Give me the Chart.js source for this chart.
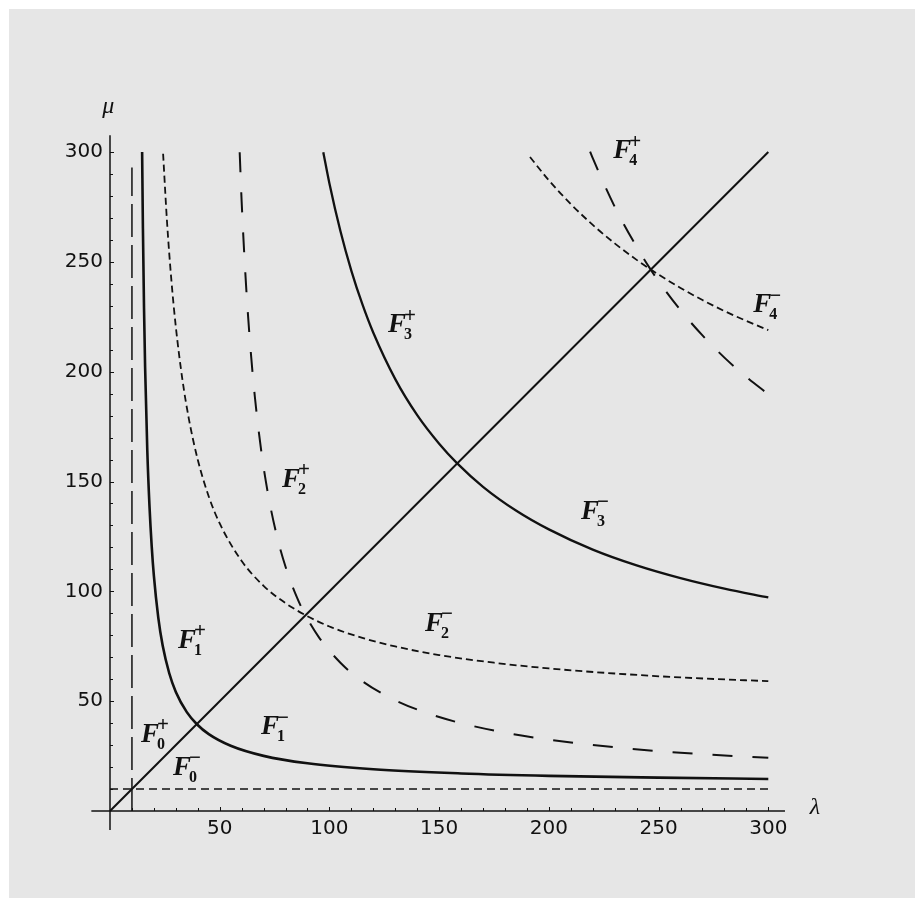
<!DOCTYPE html>
<html>
<head>
<meta charset="utf-8">
<script src="https://cdn.jsdelivr.net/npm/chart.js@4.4.0/dist/chart.umd.min.js"></script>
<style>
  html, body { margin: 0; padding: 0; background: #fff; }
  #wrap { position: absolute; left: 9px; top: 9px; width: 906px; height: 889px; background: #e6e6e6; }
</style>
</head>
<body>
<div id="wrap"><canvas id="plot" width="906" height="889"></canvas></div>
<script>
// values (lambda on x, mu on y)
var tickValues = [50, 100, 150, 200, 250, 300];

var axisX = [-8.5, 307.6];
var axisY = [-8.6, 307.6];

var diagX = [0, 300];
var diagY = [0, 300];

var f0VertX = [10, 10];
var f0VertY = [0, 293];
var f0HorizX = [0, 300];
var f0HorizY = [10, 10];

var f1X = [14.64, 15, 15.5, 16, 17, 18, 19, 20, 22, 24, 27, 30, 35, 39.6, 45, 55, 70, 90, 120, 160, 200, 250, 300];
var f1Y = [300, 265.3, 229.1, 202, 164, 138.7, 120.6, 107, 88, 75.3, 62.7, 54.2, 45, 39.5, 35, 29.7, 25.1, 21.7, 19, 17.1, 16, 15.2, 14.6];

var f2ShortX = [24.2, 26, 28, 30, 33, 36, 40, 45, 50, 60, 70, 80, 89, 100, 115, 130, 150, 175, 200, 230, 260, 300];
var f2ShortY = [299.2, 268, 241.3, 220.4, 196.4, 178.2, 159.9, 143.2, 130.9, 113.8, 102.5, 94.6, 89.2, 84, 78.8, 74.9, 71, 67.5, 64.9, 62.6, 60.8, 59.1];

var f2LongX = [59.1, 60, 62, 64, 66, 69, 72, 76, 80, 85, 89, 95, 105, 115, 130, 150, 175, 200, 230, 260, 300];
var f2LongY = [299.9, 277.3, 239.4, 210.9, 188.7, 163.4, 144.4, 125.4, 111.2, 97.7, 89.3, 79.4, 67.5, 59.1, 50.4, 42.8, 36.6, 32.5, 29, 26.5, 24.2];

var f3X = [97.2, 100, 105, 110, 115, 120, 130, 140, 150, 158, 170, 185, 200, 220, 240, 260, 280, 300];
var f3Y = [299.9, 285.7, 264, 245.9, 230.7, 217.7, 196.6, 180.2, 167.2, 158.5, 147.6, 136.8, 128.2, 119, 111.8, 106, 101.2, 97.2];

var f4ShortX = [191.4, 200, 210, 220, 230, 240, 250, 260, 270, 280, 290, 300];
var f4ShortY = [297.7, 287.1, 276.3, 266.8, 258.4, 250.9, 244.2, 238.1, 232.6, 227.6, 223.1, 218.9];

var f4LongX = [218.8, 220, 230, 240, 246.2, 250, 260, 270, 280, 290, 300];
var f4LongY = [300.2, 297.2, 275.1, 256.8, 246.8, 241.2, 228, 216.5, 206.4, 197.6, 189.7];

// region names F_n^(+/-)
var labelIndex = ['0', '0', '1', '1', '2', '2', '3', '3', '4', '4'];
var labelSign = ['+', '\u2212', '+', '\u2212', '+', '\u2212', '+', '\u2212', '+', '\u2212'];
var labelX = [18.2, 32.8, 35.1, 72.9, 82.5, 147.7, 130.8, 218.8, 233.4, 297.2];
var labelY = [34.6, 19.6, 77.4, 38.2, 150.7, 85.1, 221.2, 136.1, 300.4, 230.3];

var ink = '#111';

function pts(xs, ys) {
  var out = [];
  for (var i = 0; i < xs.length; i++) out.push({x: xs[i], y: ys[i]});
  return out;
}

function curve(xs, ys, width, dash, smooth) {
  return {
    data: pts(xs, ys),
    showLine: true,
    borderColor: ink,
    borderWidth: width,
    borderDash: dash || [],
    pointRadius: 0,
    fill: false,
    clip: false,
    cubicInterpolationMode: smooth ? 'monotone' : 'default',
    tension: 0
  };
}

var decorations = {
  id: 'decorations',
  afterDatasetsDraw: function(chart) {
    var ctx = chart.ctx, xs = chart.scales.x, ys = chart.scales.y;
    var x0 = xs.getPixelForValue(0), y0 = ys.getPixelForValue(0);
    ctx.save();
    ctx.strokeStyle = ink;
    ctx.lineWidth = 1;
    // small inward ticks every 10
    for (var v = 10; v <= 300; v += 10) {
      var len = v % 50 === 0 ? 4 : 3;
      var px = Math.round(xs.getPixelForValue(v)) + 0.5;
      var py = Math.round(ys.getPixelForValue(v)) + 0.5;
      ctx.beginPath();
      ctx.moveTo(px, y0); ctx.lineTo(px, y0 - len);
      ctx.moveTo(x0, py); ctx.lineTo(x0 + len, py);
      ctx.stroke();
    }
    ctx.fillStyle = ink;
    ctx.textBaseline = 'middle';
    // axis names
    ctx.font = 'italic 24px "Liberation Serif"';
    ctx.textAlign = 'center';
    ctx.fillText('\u03bc', xs.getPixelForValue(-0.8), ys.getPixelForValue(320.6));
    ctx.fillText('\u03bb', xs.getPixelForValue(321.3), ys.getPixelForValue(1.4));
    // region labels
    for (var i = 0; i < labelX.length; i++) {
      var lx = xs.getPixelForValue(labelX[i]);
      var ly = ys.getPixelForValue(labelY[i]);
      ctx.font = 'italic bold 27px "Liberation Serif"';
      ctx.textAlign = 'center';
      ctx.fillText('F', lx, ly);
      ctx.textAlign = 'left';
      ctx.font = 'bold 16px "Liberation Serif"';
      ctx.fillText(labelIndex[i], lx + 7, ly + 10);
      ctx.font = 'bold 21px "Liberation Serif"';
      ctx.fillText(labelSign[i], lx + 7, ly - 9);
    }
    ctx.restore();
  }
};

var ctx = document.getElementById('plot').getContext('2d');
var chart = new Chart(ctx, {
  type: 'scatter',
  data: {
    datasets: [
      curve(axisX, [0, 0], 1.5),
      curve([0, 0], axisY, 1.5),
      curve(diagX, diagY, 2),
      curve(f0VertX, f0VertY, 1.5, [33, 8]),
      curve(f0HorizX, f0HorizY, 1.5, [8, 5]),
      curve(f1X, f1Y, 2.6, null, true),
      curve(f2ShortX, f2ShortY, 1.8, [7, 4], true),
      curve(f2LongX, f2LongY, 2, [20, 20], true),
      curve(f3X, f3Y, 2.3, null, true),
      curve(f4ShortX, f4ShortY, 1.8, [7, 4], true),
      curve(f4LongX, f4LongY, 2, [20, 20], true)
    ]
  },
  options: {
    responsive: false,
    animation: false,
    events: [],
    layout: { padding: { left: 0, top: 143, right: 146.7, bottom: 0 } },
    plugins: { legend: { display: false }, tooltip: { enabled: false } },
    scales: {
      x: {
        type: 'linear', min: 0, max: 300,
        grid: { display: false, drawTicks: false },
        border: { display: false },
        afterBuildTicks: function(scale) {
          scale.ticks = tickValues.map(function(v) { return {value: v}; });
        },
        afterFit: function(scale) { scale.height = 87; },
        ticks: { color: ink, padding: 6, maxRotation: 0, font: { family: 'DejaVu Sans', size: 20 } }
      },
      y: {
        type: 'linear', min: 0, max: 300,
        grid: { display: false, drawTicks: false },
        border: { display: false },
        afterBuildTicks: function(scale) {
          scale.ticks = tickValues.map(function(v) { return {value: v}; });
        },
        afterFit: function(scale) { scale.width = 101; },
        ticks: { color: ink, padding: 7, font: { family: 'DejaVu Sans', size: 20 } }
      }
    }
  },
  plugins: [decorations]
});
</script>
</body>
</html>
